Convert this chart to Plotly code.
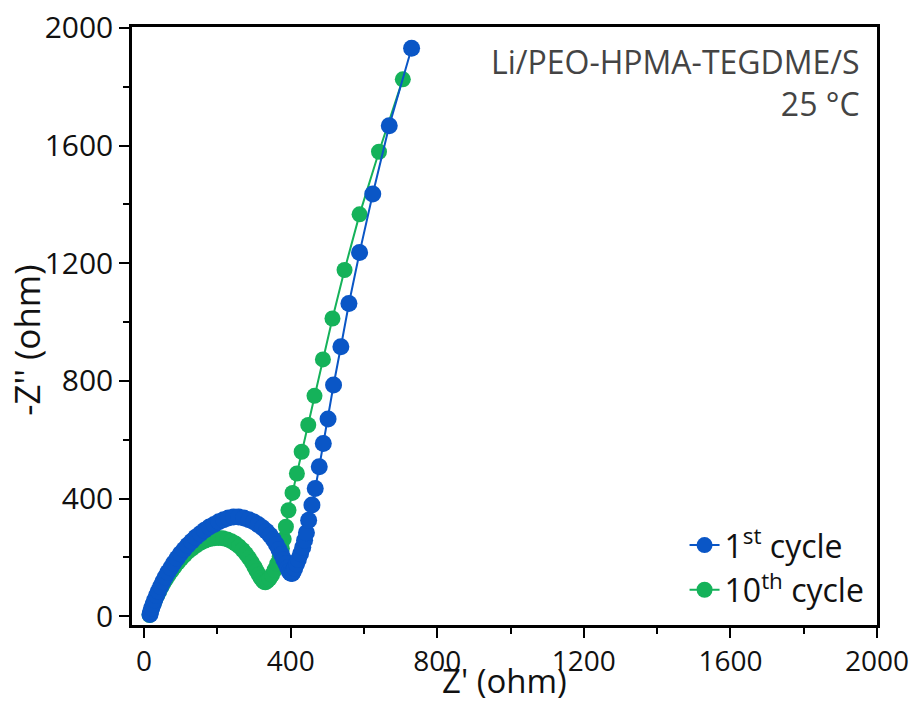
import plotly.graph_objects as go

# 1st cycle (blue)
z1_re = [16, 18, 21, 25, 29, 34, 39, 45, 51, 58, 65, 73, 81, 90, 99, 109, 119, 130, 141, 153,
         165, 178, 191, 204, 217, 230, 244, 258, 272, 286, 299, 311, 323, 334, 344, 353, 361,
         368, 375, 381, 387, 392, 396, 400, 404,
         407, 411, 416, 421, 427, 433, 438, 443, 449, 458, 467, 478, 489, 502, 517, 537, 559,
         588, 624, 669, 730]
z1_im = [6, 16, 28, 41, 55, 70, 85, 101, 117, 133, 149, 165, 181, 197, 212, 227, 241, 255, 268, 280,
         292, 303, 312, 321, 328, 334, 337, 337, 334, 328, 321, 312, 301, 289, 275, 260, 244,
         227, 210, 193, 178, 164, 153, 146, 145,
         152, 163, 177, 193, 212, 234, 258, 284, 326, 378, 434, 508, 587, 670, 786, 916, 1063,
         1236, 1435, 1667, 1931]

# 10th cycle (green)
z10_re = [15, 17, 20, 23, 27, 31, 36, 41, 47, 53, 60, 67, 75, 83, 92, 101, 111, 121, 132, 143,
          155, 167, 179, 191, 203, 215, 227, 238, 249, 259, 269, 278, 286, 294, 301, 307, 313,
          318, 323, 327, 331,
          336, 342, 349, 356, 363, 370, 376, 381, 387, 394, 405, 417, 430, 448, 465, 488, 514,
          547, 588, 641, 706]
z10_im = [4, 13, 23, 34, 46, 58, 71, 84, 98, 112, 126, 140, 154, 168, 182, 195, 208, 220, 231, 241,
          250, 257, 262, 265, 266, 265, 261, 255, 247, 237, 225, 212, 198, 183, 168, 154, 141,
          130, 122, 117, 115,
          119, 127, 140, 157, 178, 203, 230, 262, 304, 360, 419, 485, 559, 650, 749, 873, 1012,
          1177, 1366, 1579, 1825]

names = ["1<sup>st</sup> cycle", "10<sup>th</sup> cycle"]
x_ticks = [0, 400, 800, 1200, 1600, 2000]
y_ticks = [0, 400, 800, 1200, 1600, 2000]
x_title = "Z' (ohm)"
y_title = "-Z'' (ohm)"
note = "Li/PEO-HPMA-TEGDME/S<br>25 °C"

BLUE = "#0A56C6"
GREEN = "#15B25A"
FONT = "Open Sans"

fig = go.Figure()
fig.add_trace(go.Scatter(x=z10_re, y=z10_im, mode="lines+markers", name=names[1],
                         line=dict(color=GREEN, width=2),
                         marker=dict(color=GREEN, size=16)))
fig.add_trace(go.Scatter(x=z1_re, y=z1_im, mode="lines+markers", name=names[0],
                         line=dict(color=BLUE, width=2),
                         marker=dict(color=BLUE, size=17)))

axis_common = dict(
    showline=True, linecolor="black", linewidth=2.5, mirror=True,
    ticks="outside", ticklen=10, tickwidth=2, tickcolor="black",
    showgrid=False, zeroline=False, automargin=False,
    minor=dict(ticks="outside", ticklen=6, tickwidth=2, tickcolor="black", dtick=200),
)

fig.update_xaxes(range=[-33, 2000], tickvals=x_ticks, ticktext=[str(v) for v in x_ticks],
                 tickfont=dict(family=FONT, size=28, color="#111"), **axis_common)
fig.update_yaxes(range=[-30, 2003], tickvals=y_ticks, ticktext=[str(v) for v in y_ticks],
                 tickfont=dict(family=FONT, size=30, color="#111"), **axis_common)

# axis titles
fig.add_annotation(x=0.5, y=-0.1338, xref="paper", yref="paper", xanchor="center", yanchor="bottom",
                   text=x_title, showarrow=False,
                   font=dict(family=FONT, size=33, color="#111"))
fig.add_annotation(x=-0.141, y=0.477, xref="paper", yref="paper", xanchor="center", yanchor="middle",
                   text=y_title, showarrow=False, textangle=-90,
                   font=dict(family=FONT, size=35, color="#111"))

# top-right note
fig.add_annotation(x=0.98, y=0.908, xref="paper", yref="paper", xanchor="right", yanchor="middle",
                   text=note, showarrow=False, align="right",
                   font=dict(family=FONT, size=32, color="#444"))

fig.update_layout(
    width=915, height=706,
    margin=dict(l=132, r=38, t=27, b=81),
    paper_bgcolor="white", plot_bgcolor="white",
    showlegend=True,
    legend=dict(x=0.99, y=0.012, xanchor="right", yanchor="bottom",
                traceorder="reversed", bgcolor="rgba(0,0,0,0)",
                font=dict(family=FONT, size=32, color="#111")),
)

fig.write_html("out.html")
